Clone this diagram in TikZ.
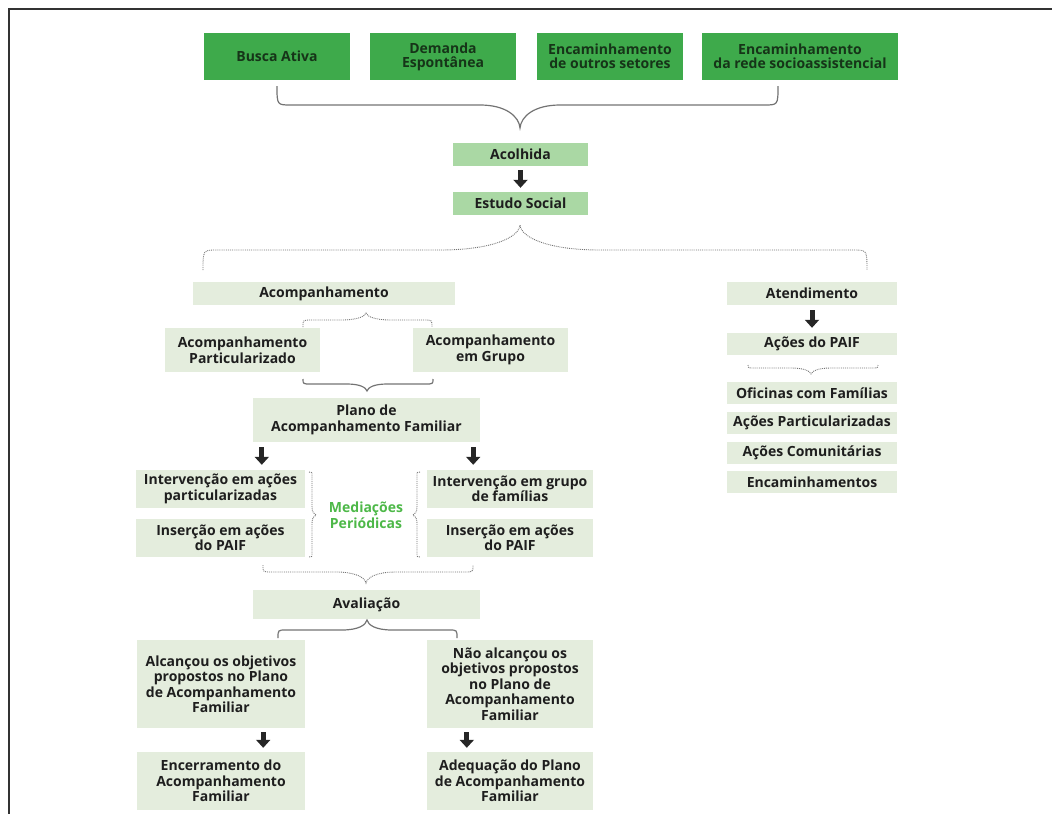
\documentclass[tikz,border=0pt]{standalone}
\usepackage{fontspec}
\setmainfont{Open Sans}
\usetikzlibrary{arrows.meta,calc}
\definecolor{topgreen}{RGB}{62,170,75}
\definecolor{toptxt}{RGB}{22,52,24}
\definecolor{midgreen}{RGB}{170,216,164}
\definecolor{palegreen}{RGB}{228,237,221}
\definecolor{medgreen}{RGB}{77,184,72}
\definecolor{bracegray}{RGB}{115,115,115}
\definecolor{txt}{RGB}{30,30,30}
\newcommand\mainf{\bfseries\fontsize{14}{15.5}\selectfont}
\newcommand\topf{\bfseries\fontsize{14}{14}\selectfont}
% horizontal brace: style, x1, x2, xtip, yend, yhoriz, ytip, tip half width, end radius
\newcommand\mybrace[9]{%
\draw[#1] (#2,#5) .. controls (#2,#6) .. ({#2+#9},#6) -- ({#4-#8},#6)
 .. controls ({#4-0.35*#8},#6) and ({#4-1},{(#6+#7)/2}) .. (#4,#7)
 .. controls ({#4+1},{(#6+#7)/2}) and ({#4+0.35*#8},#6) .. ({#4+#8},#6)
 -- ({#3-#9},#6) .. controls (#3,#6) .. (#3,#5);}
% vertical brace: style, y1, y2, ytip, xend, xline, xtip, tip half height, end radius
\newcommand\myvbrace[9]{%
\draw[#1] (#5,#2) .. controls (#6,#2) .. (#6,{#2+#9}) -- (#6,{#4-#8})
 .. controls (#6,{#4-0.35*#8}) and ({(#6+#7)/2},{#4-1}) .. (#7,#4)
 .. controls ({(#6+#7)/2},{#4+1}) and (#6,{#4+0.35*#8}) .. (#6,{#4+#8})
 -- (#6,{#3-#9}) .. controls (#6,#3) .. (#5,#3);}
\tikzset{
 base/.style={inner sep=0pt, align=center, font=\mainf, text=txt},
 topbox/.style={base, fill=topgreen, font=\topf, text=toptxt, minimum height=47pt},
 midbox/.style={base, fill=midgreen, minimum width=135pt, minimum height=23pt},
 pale/.style={base, fill=palegreen},
 solidbrace/.style={draw=bracegray, line width=1.2pt},
 dotbrace/.style={draw=bracegray, line width=0.9pt, densely dotted},
 blk/.style={draw=black!85, line width=5pt, -{Triangle[width=14pt,length=8pt]}, shorten <=4pt, shorten >=4pt},
 frameline/.style={draw=black!80, line width=2.5pt}
}
\begin{document}
\begin{tikzpicture}[x=1pt,y=-1pt]
\useasboundingbox (0,0) rectangle (1052,814);
\draw[frameline] (1052,9) -- (9,9) -- (9,814);
% top sources
\node[topbox, minimum width=146pt] (busca) at (277,56.5) {Busca Ativa};
\node[topbox, minimum width=146pt] (demanda) at (443,56.5) {Demanda\\Espontânea};
\node[topbox, minimum width=146pt] (outros) at (610,56.5) {Encaminhamento\\de outros setores};
\node[topbox, minimum width=196pt] (rede) at (800,56.5) {Encaminhamento\\da rede socioassistencial};
\mybrace{solidbrace}{277}{778}{520}{86}{105}{128}{40}{14}
% acolhida / estudo
\node[midbox] (acolhida) at (520.5,154.5) {Acolhida};
\node[midbox] (estudo) at (520.5,203.5) {Estudo Social};
\draw[blk] (acolhida) -- (estudo);
\mybrace{dotbrace}{203}{867}{520}{270}{250}{225}{80}{14}
% left branch
\node[pale, minimum width=262pt, minimum height=23pt] (acomp) at (324,293.5) {Acompanhamento};
\mybrace{dotbrace}{303}{432}{366}{327}{320}{313}{25}{8}
\node[pale, minimum width=155pt, minimum height=44pt] (apart) at (242.5,350) {Acompanhamento\\Particularizado};
\node[pale, minimum width=155pt, minimum height=44pt] (agrupo) at (490.5,350) {Acompanhamento\\em Grupo};
\mybrace{solidbrace}{303}{433}{367}{379}{384}{391}{20}{8}
\node[pale, minimum width=227pt, minimum height=44pt] (plano) at (366.5,420) {Plano de\\Acompanhamento Familiar};
\node[pale, minimum width=169pt, minimum height=38pt] (ipart) at (220.5,489) {Intervenção em ações\\particularizadas};
\node[pale, minimum width=169pt, minimum height=38pt] (insl) at (220.5,538) {Inserção em ações\\do PAIF};
\node[pale, minimum width=166pt, minimum height=38pt] (igrupo) at (510,489) {Intervenção em grupo\\de famílias};
\node[pale, minimum width=166pt, minimum height=38pt] (insr) at (510,538) {Inserção em ações\\do PAIF};
\draw[blk, shorten <=5pt, shorten >=5pt] ([xshift=9pt]plano.south west) -- ([xshift=9pt]plano.south west |- ipart.north);
\draw[blk, shorten <=5pt, shorten >=5pt] ([xshift=-7pt]plano.south east) -- ([xshift=-7pt]plano.south east |- igrupo.north);
\node[base, text=medgreen] (med) at (366,515) {Mediações\\Periódicas};
\myvbrace{dotbrace}{472}{557}{515}{309}{312}{316}{8}{4}
\myvbrace{dotbrace}{472}{557}{515}{420}{417}{413}{8}{4}
\mybrace{dotbrace}{263}{473}{366}{565}{572}{583}{30}{8}
\node[pale, minimum width=227pt, minimum height=29pt] (aval) at (366.5,604.5) {Avaliação};
\mybrace{solidbrace}{278}{457}{367}{638}{630}{620}{25}{8}
\node[pale, minimum width=168pt, minimum height=88pt] (alc) at (221,684) {Alcançou os objetivos\\propostos no Plano\\de Acompanhamento\\Familiar};
\node[pale, minimum width=166pt, minimum height=88pt] (nao) at (510,684) {Não alcançou os\\objetivos propostos\\no Plano de\\Acompanhamento\\Familiar};
\node[pale, minimum width=168pt, minimum height=58pt] (enc) at (221,781) {Encerramento do\\Acompanhamento\\Familiar};
\node[pale, minimum width=166pt, minimum height=58pt] (adeq) at (510,781) {Adequação do Plano\\de Acompanhamento\\Familiar};
\draw[blk] ([xshift=-42pt]alc.south east) -- ([xshift=-42pt]alc.south east |- enc.north);
\draw[blk] ([xshift=40pt]nao.south west) -- ([xshift=40pt]nao.south west |- adeq.north);
% right branch
\node[pale, minimum width=170pt, minimum height=23pt] (atend) at (812,293.5) {Atendimento};
\node[pale, minimum width=170pt, minimum height=22pt] (acoes) at (812,344) {Ações do PAIF};
\draw[blk, shorten <=5pt, shorten >=5pt] (atend) -- (acoes);
\mybrace{dotbrace}{748}{878}{811}{365}{368}{374}{20}{6}
\node[pale, minimum width=170pt, minimum height=22pt] (ofic) at (812,393) {Oficinas com Famílias};
\node[pale, minimum width=170pt, minimum height=22pt] (apar) at (812,423) {Ações Particularizadas};
\node[pale, minimum width=170pt, minimum height=22pt] (acom) at (812,453) {Ações Comunitárias};
\node[pale, minimum width=170pt, minimum height=22pt] (encam) at (812,482) {Encaminhamentos};
\end{tikzpicture}
\end{document}
